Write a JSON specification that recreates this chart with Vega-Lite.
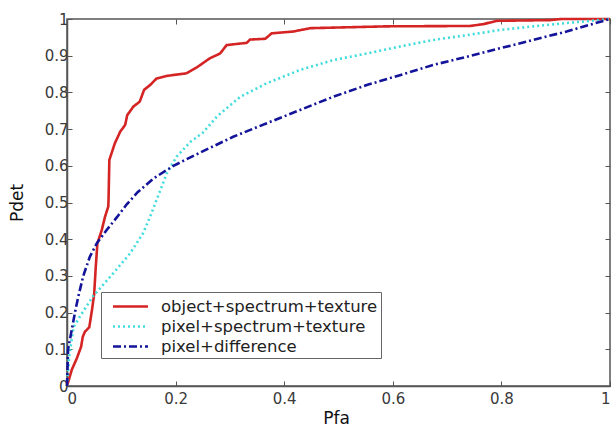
{
  "$schema": "https://vega.github.io/schema/vega-lite/v6.json",
  "autosize": {"type": "none"},
  "width": 543,
  "height": 367,
  "padding": {"left": 67, "top": 19, "right": 3, "bottom": 46},
  "background": "white",
  "config": {
    "view": {"stroke": "#555", "strokeWidth": 1.5},
    "axis": {
      "grid": false,
      "domainColor": "#555",
      "domainWidth": 1.5,
      "tickColor": "#555",
      "tickSize": -5,
      "labelFont": "DejaVu Sans",
      "labelFontSize": 15,
      "labelColor": "#3a3a3a",
      "titleFont": "DejaVu Sans",
      "titleFontSize": 17,
      "titleFontWeight": "normal",
      "titleColor": "#111"
    }
  },
  "data": {
    "values": [
      {"series": "object+spectrum+texture", "pfa": 0, "pdet": 0},
      {"series": "object+spectrum+texture", "pfa": 0.009, "pdet": 0.045},
      {"series": "object+spectrum+texture", "pfa": 0.018, "pdet": 0.075},
      {"series": "object+spectrum+texture", "pfa": 0.026, "pdet": 0.107},
      {"series": "object+spectrum+texture", "pfa": 0.029, "pdet": 0.134},
      {"series": "object+spectrum+texture", "pfa": 0.033, "pdet": 0.148},
      {"series": "object+spectrum+texture", "pfa": 0.041, "pdet": 0.16},
      {"series": "object+spectrum+texture", "pfa": 0.046, "pdet": 0.207},
      {"series": "object+spectrum+texture", "pfa": 0.05, "pdet": 0.25},
      {"series": "object+spectrum+texture", "pfa": 0.053, "pdet": 0.325},
      {"series": "object+spectrum+texture", "pfa": 0.056, "pdet": 0.389},
      {"series": "object+spectrum+texture", "pfa": 0.064, "pdet": 0.425},
      {"series": "object+spectrum+texture", "pfa": 0.07, "pdet": 0.461},
      {"series": "object+spectrum+texture", "pfa": 0.076, "pdet": 0.489},
      {"series": "object+spectrum+texture", "pfa": 0.0765, "pdet": 0.507},
      {"series": "object+spectrum+texture", "pfa": 0.078, "pdet": 0.616},
      {"series": "object+spectrum+texture", "pfa": 0.088, "pdet": 0.661},
      {"series": "object+spectrum+texture", "pfa": 0.098, "pdet": 0.693},
      {"series": "object+spectrum+texture", "pfa": 0.107, "pdet": 0.711},
      {"series": "object+spectrum+texture", "pfa": 0.111, "pdet": 0.738},
      {"series": "object+spectrum+texture", "pfa": 0.122, "pdet": 0.761},
      {"series": "object+spectrum+texture", "pfa": 0.134, "pdet": 0.775},
      {"series": "object+spectrum+texture", "pfa": 0.142, "pdet": 0.807},
      {"series": "object+spectrum+texture", "pfa": 0.153, "pdet": 0.82},
      {"series": "object+spectrum+texture", "pfa": 0.165, "pdet": 0.838},
      {"series": "object+spectrum+texture", "pfa": 0.184, "pdet": 0.845},
      {"series": "object+spectrum+texture", "pfa": 0.22, "pdet": 0.852},
      {"series": "object+spectrum+texture", "pfa": 0.239, "pdet": 0.868},
      {"series": "object+spectrum+texture", "pfa": 0.263, "pdet": 0.893},
      {"series": "object+spectrum+texture", "pfa": 0.282, "pdet": 0.906},
      {"series": "object+spectrum+texture", "pfa": 0.294, "pdet": 0.929},
      {"series": "object+spectrum+texture", "pfa": 0.331, "pdet": 0.935},
      {"series": "object+spectrum+texture", "pfa": 0.337, "pdet": 0.944},
      {"series": "object+spectrum+texture", "pfa": 0.365, "pdet": 0.946},
      {"series": "object+spectrum+texture", "pfa": 0.377, "pdet": 0.961},
      {"series": "object+spectrum+texture", "pfa": 0.417, "pdet": 0.966},
      {"series": "object+spectrum+texture", "pfa": 0.448, "pdet": 0.975},
      {"series": "object+spectrum+texture", "pfa": 0.589, "pdet": 0.98},
      {"series": "object+spectrum+texture", "pfa": 0.742, "pdet": 0.981},
      {"series": "object+spectrum+texture", "pfa": 0.767, "pdet": 0.986},
      {"series": "object+spectrum+texture", "pfa": 0.791, "pdet": 0.995},
      {"series": "object+spectrum+texture", "pfa": 0.89, "pdet": 0.997},
      {"series": "object+spectrum+texture", "pfa": 0.91, "pdet": 1},
      {"series": "object+spectrum+texture", "pfa": 1, "pdet": 1},
      {"series": "pixel+spectrum+texture", "pfa": 0, "pdet": 0},
      {"series": "pixel+spectrum+texture", "pfa": 0.004, "pdet": 0.08},
      {"series": "pixel+spectrum+texture", "pfa": 0.012, "pdet": 0.16},
      {"series": "pixel+spectrum+texture", "pfa": 0.024, "pdet": 0.19},
      {"series": "pixel+spectrum+texture", "pfa": 0.048, "pdet": 0.245},
      {"series": "pixel+spectrum+texture", "pfa": 0.085, "pdet": 0.307},
      {"series": "pixel+spectrum+texture", "pfa": 0.116, "pdet": 0.361},
      {"series": "pixel+spectrum+texture", "pfa": 0.14, "pdet": 0.416},
      {"series": "pixel+spectrum+texture", "pfa": 0.153, "pdet": 0.461},
      {"series": "pixel+spectrum+texture", "pfa": 0.165, "pdet": 0.507},
      {"series": "pixel+spectrum+texture", "pfa": 0.171, "pdet": 0.53},
      {"series": "pixel+spectrum+texture", "pfa": 0.184, "pdet": 0.58},
      {"series": "pixel+spectrum+texture", "pfa": 0.202, "pdet": 0.625},
      {"series": "pixel+spectrum+texture", "pfa": 0.227, "pdet": 0.665},
      {"series": "pixel+spectrum+texture", "pfa": 0.25, "pdet": 0.69},
      {"series": "pixel+spectrum+texture", "pfa": 0.276, "pdet": 0.734},
      {"series": "pixel+spectrum+texture", "pfa": 0.319, "pdet": 0.788},
      {"series": "pixel+spectrum+texture", "pfa": 0.368, "pdet": 0.825},
      {"series": "pixel+spectrum+texture", "pfa": 0.429, "pdet": 0.861},
      {"series": "pixel+spectrum+texture", "pfa": 0.49, "pdet": 0.888},
      {"series": "pixel+spectrum+texture", "pfa": 0.552, "pdet": 0.906},
      {"series": "pixel+spectrum+texture", "pfa": 0.613, "pdet": 0.925},
      {"series": "pixel+spectrum+texture", "pfa": 0.675, "pdet": 0.943},
      {"series": "pixel+spectrum+texture", "pfa": 0.736, "pdet": 0.956},
      {"series": "pixel+spectrum+texture", "pfa": 0.797, "pdet": 0.97},
      {"series": "pixel+spectrum+texture", "pfa": 0.859, "pdet": 0.98},
      {"series": "pixel+spectrum+texture", "pfa": 0.92, "pdet": 0.989},
      {"series": "pixel+spectrum+texture", "pfa": 1, "pdet": 1},
      {"series": "pixel+difference", "pfa": 0, "pdet": 0},
      {"series": "pixel+difference", "pfa": 0.001, "pdet": 0.05},
      {"series": "pixel+difference", "pfa": 0.002, "pdet": 0.1},
      {"series": "pixel+difference", "pfa": 0.009, "pdet": 0.155},
      {"series": "pixel+difference", "pfa": 0.015, "pdet": 0.203},
      {"series": "pixel+difference", "pfa": 0.021, "pdet": 0.245},
      {"series": "pixel+difference", "pfa": 0.03, "pdet": 0.3},
      {"series": "pixel+difference", "pfa": 0.042, "pdet": 0.352},
      {"series": "pixel+difference", "pfa": 0.055, "pdet": 0.389},
      {"series": "pixel+difference", "pfa": 0.073, "pdet": 0.425},
      {"series": "pixel+difference", "pfa": 0.092, "pdet": 0.46},
      {"series": "pixel+difference", "pfa": 0.11, "pdet": 0.495},
      {"series": "pixel+difference", "pfa": 0.13, "pdet": 0.528},
      {"series": "pixel+difference", "pfa": 0.159, "pdet": 0.565},
      {"series": "pixel+difference", "pfa": 0.196, "pdet": 0.6},
      {"series": "pixel+difference", "pfa": 0.245, "pdet": 0.636},
      {"series": "pixel+difference", "pfa": 0.306, "pdet": 0.679},
      {"series": "pixel+difference", "pfa": 0.368, "pdet": 0.716},
      {"series": "pixel+difference", "pfa": 0.429, "pdet": 0.752},
      {"series": "pixel+difference", "pfa": 0.49, "pdet": 0.788},
      {"series": "pixel+difference", "pfa": 0.552, "pdet": 0.82},
      {"series": "pixel+difference", "pfa": 0.613, "pdet": 0.847},
      {"series": "pixel+difference", "pfa": 0.675, "pdet": 0.875},
      {"series": "pixel+difference", "pfa": 0.736, "pdet": 0.897},
      {"series": "pixel+difference", "pfa": 0.797, "pdet": 0.92},
      {"series": "pixel+difference", "pfa": 0.859, "pdet": 0.943},
      {"series": "pixel+difference", "pfa": 0.92, "pdet": 0.966},
      {"series": "pixel+difference", "pfa": 1, "pdet": 1}
    ]
  },
  "layer": [
    {
      "mark": {"type": "line", "opacity": 0},
      "encoding": {
        "x": {"field": "pfa", "type": "quantitative", "scale": {"domain": [0, 1], "nice": false},
              "axis": {"orient": "top", "labels": false, "title": null, "domain": false, "values": [0, 0.2, 0.4, 0.6, 0.8, 1]}},
        "y": {"field": "pdet", "type": "quantitative", "scale": {"domain": [0, 1], "nice": false},
              "axis": {"orient": "right", "labels": false, "title": null, "domain": false, "values": [0, 0.1, 0.2, 0.3, 0.4, 0.5, 0.6, 0.7, 0.8, 0.9, 1]}},
        "detail": {"field": "series"}
      }
    },
    {
      "mark": {"type": "line", "strokeWidth": 2.6},
      "encoding": {
        "x": {"field": "pfa", "type": "quantitative", "scale": {"domain": [0, 1], "nice": false},
              "axis": {"orient": "bottom", "title": "Pfa", "values": [0, 0.2, 0.4, 0.6, 0.8, 1], "format": "~g", "labelPadding": 10, "titlePadding": 4, "titleX": 269}},
        "y": {"field": "pdet", "type": "quantitative", "scale": {"domain": [0, 1], "nice": false},
              "axis": {"orient": "left", "title": "Pdet", "values": [0, 0.1, 0.2, 0.3, 0.4, 0.5, 0.6, 0.7, 0.8, 0.9, 1], "format": "~g", "labelPadding": 4, "titlePadding": 18}},
        "color": {
          "field": "series", "type": "nominal",
          "scale": {"domain": ["object+spectrum+texture", "pixel+spectrum+texture", "pixel+difference"],
                    "range": ["#d42424", "#40dcdc", "#14149a"]},
          "legend": {
            "title": null, "orient": "none", "legendX": 34, "legendY": 273,
            "strokeColor": "#666", "fillColor": "white", "padding": 3,
            "symbolType": "M-1.75,0H1.75", "symbolSize": 400, "symbolStrokeWidth": 2.6,
            "labelFont": "DejaVu Sans", "labelFontSize": 16.5, "labelColor": "#222", "labelLimit": 400,
            "labelOffset": 19, "rowPadding": 0, "symbolOffset": 15
          }
        },
        "strokeDash": {
          "field": "series", "type": "nominal",
          "scale": {"domain": ["object+spectrum+texture", "pixel+spectrum+texture", "pixel+difference"],
                    "range": [[1, 0], [2, 3], [8, 3, 2, 3]]},
          "legend": null
        }
      }
    }
  ],
  "resolve": {"axis": {"x": "independent", "y": "independent"}}
}
